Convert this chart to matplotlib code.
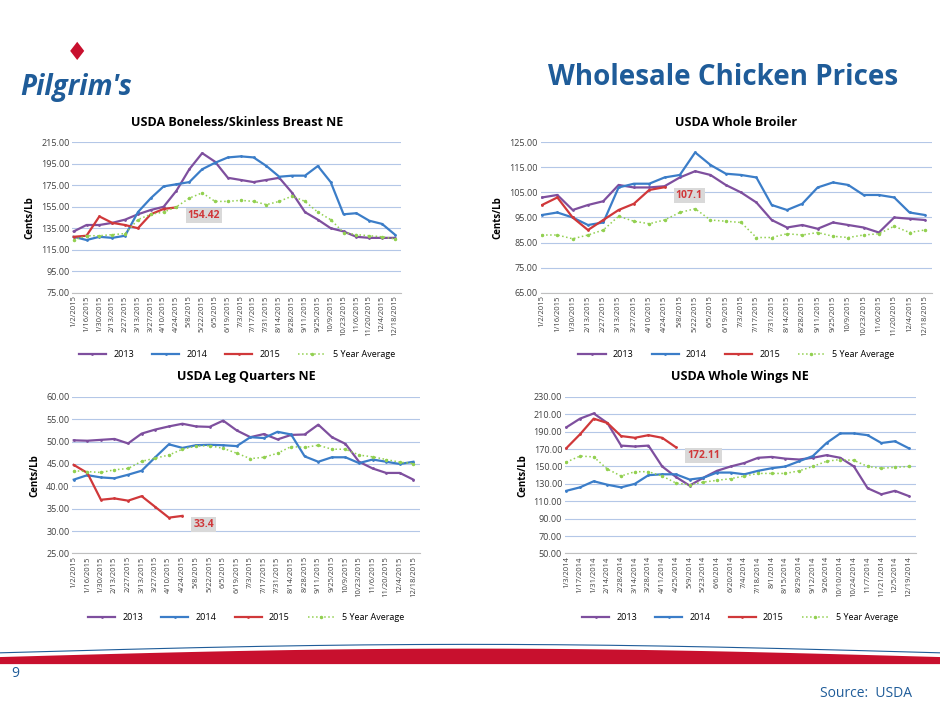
import numpy as np
import matplotlib.pyplot as plt
from matplotlib.patches import Polygon

plt.rcParams['font.family'] = ['Open Sans', 'DejaVu Sans']

ticks_15 = ["1/2/2015", "1/16/2015", "1/30/2015", "2/13/2015", "2/27/2015", "3/13/2015",
            "3/27/2015", "4/10/2015", "4/24/2015", "5/8/2015", "5/22/2015", "6/5/2015",
            "6/19/2015", "7/3/2015", "7/17/2015", "7/31/2015", "8/14/2015", "8/28/2015",
            "9/11/2015", "9/25/2015", "10/9/2015", "10/23/2015", "11/6/2015", "11/20/2015",
            "12/4/2015", "12/18/2015"]
ticks_14 = ["1/3/2014", "1/17/2014", "1/31/2014", "2/14/2014", "2/28/2014", "3/14/2014",
            "3/28/2014", "4/11/2014", "4/25/2014", "5/9/2014", "5/23/2014", "6/6/2014",
            "6/20/2014", "7/4/2014", "7/18/2014", "8/1/2014", "8/15/2014", "8/29/2014",
            "9/12/2014", "9/26/2014", "10/10/2014", "10/24/2014", "11/7/2014", "11/21/2014",
            "12/5/2014", "12/19/2014"]

# Boneless/Skinless Breast
breast_2013 = [132, 138, 138, 140, 143, 148, 152, 155, 170, 190, 205, 197, 182, 180, 178, 180,
               182, 168, 150, 143, 135, 132, 127, 126, 126, 126]
breast_2014 = [127, 124, 127, 126, 128, 150, 163, 174, 176, 178, 190, 196, 201, 202, 201, 193,
               183, 184, 184, 193, 178, 148, 149, 142, 139, 129]
breast_2015 = [127, 128, 146, 140, 138, 135, 148, 153, 154.42]
breast_avg = [124, 128, 128, 129, 130, 143, 148, 150, 155, 163, 168, 160, 160, 161, 160, 157,
              160, 165, 160, 150, 143, 131, 129, 128, 127, 125]

# Whole Broiler
broiler_2013 = [103, 104, 98, 100, 101.5, 108, 107, 107, 107.5, 111, 113.5, 112, 108, 105, 101,
                94, 91, 92, 90.5, 93, 92, 91, 89, 95, 94.5, 94]
broiler_2014 = [96, 97, 95, 92, 93, 107, 108.5, 108.5, 111, 112, 121, 116, 112.5, 112, 111, 100,
                98, 100.5, 107, 109, 108, 104, 104, 103, 97, 96]
broiler_2015 = [100, 103, 95, 90, 94, 98, 100.5, 106, 107.1]
broiler_avg = [88, 88, 86.5, 88, 90, 95.5, 93.5, 92.5, 94, 97, 98.5, 94, 93.5, 93, 87, 87, 88.5,
               88, 89, 87.5, 87, 88, 88.5, 91.5, 89, 90]

# Leg Quarters
leg_2013 = [50.3, 50.2, 50.4, 50.6, 49.6, 51.8, 52.7, 53.4, 54, 53.4, 53.3, 54.7, 52.5, 51, 51.7,
            50.5, 51.5, 51.6, 53.8, 51, 49.5, 45.5, 44, 43, 43, 41.5]
leg_2014 = [41.5, 42.5, 42, 41.8, 42.6, 43.5, 46.5, 49.4, 48.6, 49.2, 49.3, 49.2, 49, 51, 50.8,
            52.2, 51.6, 46.7, 45.5, 46.5, 46.5, 45.2, 46, 45.5, 45, 45.5]
leg_2015 = [44.8, 43, 37, 37.3, 36.8, 37.8, 35.4, 33, 33.4]
leg_avg = [43.5, 43.3, 43.1, 43.7, 44, 45.6, 46.3, 47, 48.3, 49, 49.1, 48.5, 47.4, 46.2, 46.5,
           47.4, 48.9, 48.7, 49.2, 48.3, 48.3, 47, 46.6, 46, 45.4, 45.1]

# Whole Wings
wings_2013 = [195, 205, 211, 200, 174, 173, 174, 150, 138, 128, 137, 145, 150, 154, 160, 161, 159,
              158, 160, 163, 160, 150, 125, 118, 122, 116]
wings_2014 = [122, 126, 133, 129, 126, 130, 140, 141, 141, 135, 137, 143, 143, 141, 145, 148, 150,
              156, 162, 177, 188, 188, 186, 177, 179, 171]
wings_2015 = [171, 187, 205, 200, 185, 183, 186, 183, 172.11]
wings_avg = [155, 162, 161, 147, 139, 144, 144, 139, 131, 129, 132, 134, 136, 139, 142, 142, 142,
             145, 150, 156, 158, 157, 150, 148, 149, 150]

C13, C14, C15, CAVG = '#7E4F9E', '#3B7DC8', '#D0383A', '#92D050'

panels = [
    ("USDA Boneless/Skinless Breast NE", ticks_15, breast_2013, breast_2014, breast_2015, breast_avg,
     (75, 215, 20), "154.42", [0.077, 0.585, 0.35, 0.213]),
    ("USDA Whole Broiler", ticks_15, broiler_2013, broiler_2014, broiler_2015, broiler_avg,
     (65, 125, 10), "107.1", [0.575, 0.585, 0.417, 0.213]),
    ("USDA Leg Quarters NE", ticks_15, leg_2013, leg_2014, leg_2015, leg_avg,
     (25, 60, 5), "33.4", [0.077, 0.215, 0.37, 0.222]),
    ("USDA Whole Wings NE", ticks_14, wings_2013, wings_2014, wings_2015, wings_avg,
     (50, 230, 20), "172.11", [0.601, 0.215, 0.373, 0.222]),
]

fig = plt.figure(figsize=(9.4, 7.05), dpi=100)

for title, ticks, s13, s14, s15, savg, (lo, hi, step), lab, rect in panels:
    ax = fig.add_axes(rect)
    x = np.arange(len(ticks))
    ax.plot(x, s13, color=C13, lw=1.6, label='2013', marker='.', ms=2)
    ax.plot(x, s14, color=C14, lw=1.6, label='2014', marker='.', ms=2)
    x15 = np.arange(len(s15))
    ax.plot(x15, s15, color=C15, lw=1.6, label='2015', marker='.', ms=2)
    ax.plot(x, savg, color=CAVG, lw=1.1, ls=':', marker='.', ms=3, label='5 Year Average')
    ax.annotate(lab, (x15[-1], s15[-1]), xytext=(8, -6), textcoords='offset points',
                fontsize=7.5, fontweight='bold', color=C15, va='center',
                bbox=dict(boxstyle='square,pad=0.2', fc='#d9d9d9', ec='none'))
    ax.set_ylim(lo, hi)
    ax.set_yticks(np.arange(lo, hi + 0.1, step))
    ax.set_yticklabels([f"{v:.2f}" for v in np.arange(lo, hi + 0.1, step)], fontsize=6.5)
    ax.set_xlim(-0.1, len(ticks) - 0.5)
    ax.set_xticks(x)
    ax.set_xticklabels(ticks, rotation=90, fontsize=5.5)
    ax.grid(axis='y', color='#b4c7e7', lw=0.8)
    ax.set_axisbelow(True)
    for s in ['top', 'right', 'left']:
        ax.spines[s].set_visible(False)
    ax.spines['bottom'].set_color('#bfbfbf')
    ax.tick_params(length=0, pad=2, colors='#404040')
    ax.set_ylabel('Cents/Lb', fontsize=7, fontweight='bold')
    ax.set_title(title, fontsize=9, fontweight='bold', pad=12)
    ax.legend(loc='upper center', bbox_to_anchor=(0.5, -0.33), ncol=4, frameon=False,
              fontsize=6.5, handlelength=3, columnspacing=2)

# header
fig.text(0.955, 0.88, "Wholesale Chicken Prices", ha='right', fontsize=20,
         fontweight='bold', color='#1F5C99')
fig.text(0.022, 0.865, "Pilgrim's", fontsize=20, fontweight='bold', color='#1F5C99',
         style='italic')
fig.text(0.07, 0.915, "\u2666", fontsize=18, color='#C8102E')

# bottom wave
xs = np.linspace(0, 1, 200)
top = 0.068 + 0.012 * np.sin(np.pi * xs)
fig.patches.append(Polygon(list(zip(xs, top)) + [(1, 0.058), (0, 0.058)], closed=True,
                           transform=fig.transFigure, fc='#C8102E', ec='none'))
fig.add_artist(plt.Line2D(xs, top + 0.006, transform=fig.transFigure, color='#1F5C99', lw=0.8))
fig.text(0.012, 0.04, "9", fontsize=10, color='#1F5C99')
fig.text(0.97, 0.012, "Source:  USDA", ha='right', fontsize=10, color='#1F5C99')

fig.savefig('out.png', dpi=100)
